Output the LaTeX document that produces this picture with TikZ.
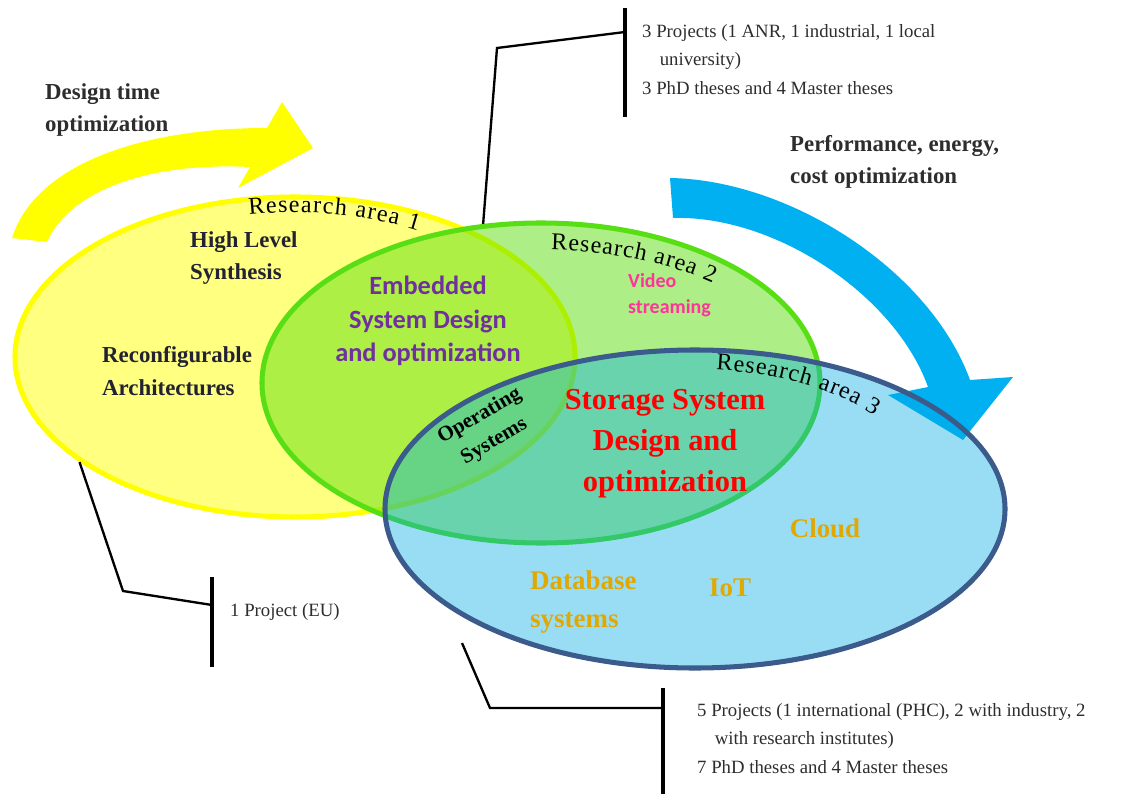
\documentclass[tikz,border=0pt]{standalone}
\usepackage{fontspec}
\setmainfont{Liberation Serif}
\newfontfamily\calfont{Carlito}
\usetikzlibrary{shapes.geometric, decorations.text}

\definecolor{areaYellow}{RGB}{255,255,128}
\definecolor{lineYellow}{RGB}{255,255,0}
\definecolor{areaGreen}{RGB}{84,222,3}
\definecolor{lineGreen}{RGB}{88,222,20}
\definecolor{areaBlue}{RGB}{0,170,230}
\definecolor{lineBlue}{RGB}{59,91,140}
\definecolor{arrowBlue}{RGB}{0,176,240}
\definecolor{topicPurple}{RGB}{112,48,160}
\definecolor{topicPink}{RGB}{255,51,153}
\definecolor{topicOrange}{RGB}{224,168,0}
\definecolor{topicDark}{RGB}{34,34,51}
\definecolor{noteGray}{RGB}{45,45,45}

\tikzset{
  area/.style={ellipse, inner sep=0pt, line width=4.3pt},
  topic/.style={font=\bfseries\fontsize{19.5}{28}\selectfont, text=topicDark, inner sep=0pt},
  headline/.style={font=\bfseries\fontsize{19.5}{27}\selectfont, text=noteGray, align=left, inner sep=0pt},
  note/.style={font=\fontsize{16}{24.5}\selectfont, text=noteGray, align=left, inner sep=0pt},
  leader/.style={line width=2pt, black},
  bar/.style={line width=2.8pt, black},
  areatitle/.style={decorate, decoration={text along path, text align={fit to path},
    text={|\fontsize{20.5}{20.5}\selectfont|#1}}}
}

\begin{document}
\begin{tikzpicture}[x=0.03cm, y=0.03cm]
\useasboundingbox (0,0) rectangle (1130,-794);

\fill[lineYellow] (12,-238) .. controls (35,-165) and (140,-128) .. (267,-128) -- (282,-102)
  -- (313,-148) -- (238,-188) -- (250,-167) .. controls (150,-162) and (70,-190) .. (47,-242) -- cycle;
\fill[arrowBlue] (670,-178) .. controls (790,-180) and (930,-270) .. (970,-380) -- (1013,-377)
  -- (963,-440) -- (888,-395) -- (928,-387) .. controls (895,-295) and (775,-215) .. (673,-218) -- cycle;

\node[area, draw=lineYellow, fill=areaYellow, minimum width=16.8cm, minimum height=9.6cm] (ra1) at (295,-357) {};
\node[area, draw=lineGreen, fill=areaGreen, fill opacity=0.48, minimum width=16.74cm, minimum height=9.6cm] (ra2) at (541,-383) {};
\node[area, draw=lineBlue, fill=areaBlue, fill opacity=0.4, minimum width=18.6cm, minimum height=9.54cm] (ra3) at (695,-509) {};

\path[areatitle={Research area 1}] (249,-215) arc[start angle=100.4, end angle=61.2, x radius=7.65cm, y radius=4.32cm];
\path[areatitle={Research area 2}] (551,-250) arc[start angle=87.8, end angle=48.8, x radius=7.83cm, y radius=3.99cm];
\path[areatitle={Research area 3}] (716,-370) arc[start angle=85, end angle=42.2, x radius=7.29cm, y radius=4.2cm];

\node[headline, anchor=west] (dto) at (45,-110) {Design time\\optimization};
\node[headline, anchor=west] (pec) at (790,-162) {Performance, energy,\\cost optimization};

\node[topic, align=left, anchor=west] (hls) at (190,-258) {High Level\\Synthesis};
\node[topic, align=left, anchor=west] (rca) at (102,-371) {Reconfigurable\\Architectures};
\node[topic, text=topicPurple, align=center, font=\calfont\bfseries\fontsize{22.5}{28.5}\selectfont] (esd) at (428,-321)
  {Embedded\\System Design\\and optimization};
\node[topic, text=topicPink, align=left, anchor=west, font=\calfont\bfseries\fontsize{17}{22}\selectfont] (vid) at (628,-295)
  {Video\\streaming};
\node[topic, text=black, align=center, rotate=30, font=\bfseries\fontsize{18}{25}\selectfont] (os) at (487,-429)
  {Operating\\Systems};
\node[topic, text=red, align=center, font=\bfseries\fontsize{26}{35}\selectfont] (ssd) at (665,-444)
  {Storage System\\Design and\\optimization};
\node[topic, text=topicOrange, font=\bfseries\fontsize{23}{33}\selectfont] (cld) at (825,-528) {Cloud};
\node[topic, text=topicOrange, align=left, anchor=west, font=\bfseries\fontsize{23}{33}\selectfont] (dbs) at (530,-602)
  {Database\\systems};
\node[topic, text=topicOrange, font=\bfseries\fontsize{23}{33}\selectfont] (iot) at (730,-588) {IoT};

\node[note, anchor=north west] (note2) at (642,-24)
  {3 Projects (1 ANR, 1 industrial, 1 local\\\hspace*{15pt}university)\\3 PhD theses and 4 Master theses};
\node[note, anchor=west] (note1) at (230,-612) {1 Project (EU)};
\node[note, anchor=north west] (note3) at (697,-703)
  {5 Projects (1 international (PHC), 2 with industry, 2\\\hspace*{15pt}with research institutes)\\7 PhD theses and 4 Master theses};

\coordinate (bar2top) at (625,-8);
\coordinate (bar2bot) at (625,-117);
\coordinate (bend2) at (497,-48);
\coordinate (join2) at (625,-32);
\draw[bar] (bar2top) -- (bar2bot);
\draw[leader] (ra2.110) -- (bend2) -- (join2);

\coordinate (bar1top) at (212,-577);
\coordinate (bar1bot) at (212,-667);
\coordinate (bend1) at (123,-591);
\coordinate (join1) at (212,-605);
\draw[bar] (bar1top) -- (bar1bot);
\draw[leader] (ra1.206) -- (bend1) -- (join1);

\coordinate (bar3top) at (663,-688);
\coordinate (bar3bot) at (663,-794);
\coordinate (lead3) at (462,-643);
\coordinate (bend3) at (490,-708);
\coordinate (join3) at (663,-708);
\draw[bar] (bar3top) -- (bar3bot);
\draw[leader] (lead3) -- (bend3) -- (join3);

\end{tikzpicture}
\end{document}
